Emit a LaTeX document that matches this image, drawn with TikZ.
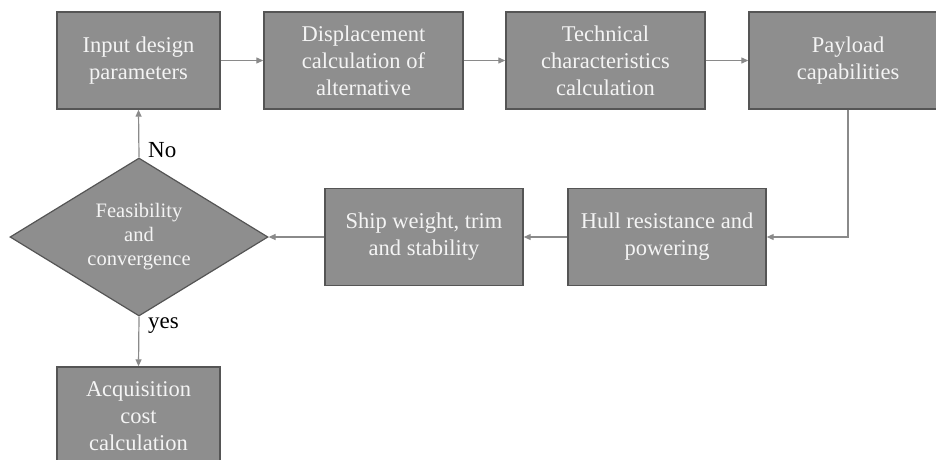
\documentclass[tikz,border=0pt]{standalone}
\usepackage{fontspec}
\setmainfont{Liberation Serif}
\usetikzlibrary{shapes.geometric,arrows.meta}

\definecolor{boxgray}{HTML}{8E8E8E}
\definecolor{edgegray}{HTML}{555555}
\definecolor{linegray}{HTML}{8A8A8A}
\definecolor{textwhite}{HTML}{F4F4F4}

\begin{document}
\begin{tikzpicture}[x=1pt,y=1pt,
   stepbox/.style={draw=edgegray, line width=1.4pt, fill=boxgray, text=textwhite,
      align=center, inner sep=0pt, minimum height=97pt,
      font=\fontsize{22.5}{27}\selectfont},
   decision/.style={diamond, draw=edgegray, line width=1.2pt, fill=boxgray, text=textwhite,
      align=center, inner sep=0pt, aspect=1.63, minimum width=258pt, minimum height=158pt,
      font=\fontsize{20.5}{24}\selectfont},
   flow/.style={draw=linegray, line width=1.2pt, -{Triangle[length=7pt,width=6pt]}},
   answer/.style={anchor=west, inner sep=0pt, font=\fontsize{23}{27}\selectfont}]
   \clip (0,0) rectangle (936,-459);
   % top row
   \node [stepbox, minimum width=163pt] (input) at (138.5,-60.5) {Input design\\parameters};
   \node [stepbox, minimum width=199pt] (displ) at (363.5,-60.5) {Displacement\\calculation of\\alternative};
   \node [stepbox, minimum width=199pt] (techn) at (605.5,-60.5) {Technical\\characteristics\\calculation};
   \node [stepbox, minimum width=198pt] (payload) at (848,-60.5) {Payload\\capabilities};
   % middle row
   \node [stepbox, minimum width=198pt] (hull) at (667,-237) {Hull resistance and\\powering};
   \node [stepbox, minimum width=198pt] (ship) at (424,-237) {Ship weight, trim\\and stability};
   \node [decision] (check) at (139,-237) {Feasibility\\and\\convergence};
   % bottom
   \node [stepbox, minimum width=163pt, minimum height=98pt] (cost) at (138.5,-416) {Acquisition\\cost\\calculation};
   % connectors
   \draw [flow] (input) -- (displ);
   \draw [flow] (displ) -- (techn);
   \draw [flow] (techn) -- (payload);
   \draw [flow] (payload.south) |- (hull.east);
   \draw [flow] (hull) -- (ship);
   \draw [flow] (ship) -- (check);
   \draw [flow] (check.north) -- (input.south);
   \draw [flow] (check.south) -- (cost.north);
   \node [answer] (no) at (148,-150) {No};
   \node [answer] (yes) at (148,-326) {yes};
\end{tikzpicture}
\end{document}
